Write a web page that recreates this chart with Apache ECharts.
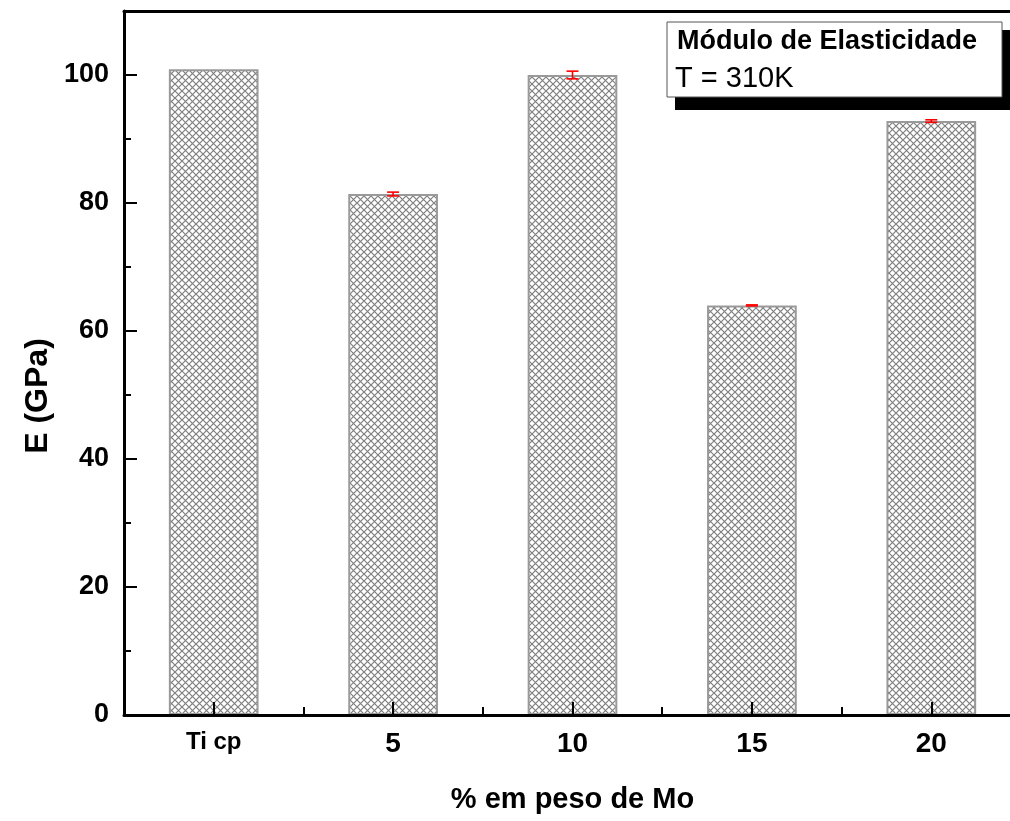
<!DOCTYPE html>
<html>
<head>
<meta charset="utf-8">
<script src="https://cdn.jsdelivr.net/npm/echarts@6/dist/echarts.min.js"></script>
<style>
  html, body { margin: 0; padding: 0; background: #fff; overflow: hidden; }
  #chart { width: 1021px; height: 821px; }
</style>
</head>
<body>
<div id="chart"></div>
<script>
// Elastic modulus of Ti–Mo alloys at 310 K
const categories = ['Ti cp', '5', '10', '15', '20'];
const modulus = [100.9, 81.4, 100.0, 64.0, 92.8];   // GPa
const modulusErr = [0, 0.3, 0.6, 0.08, 0.2];         // GPa, ± deviation
const yMajorTicks = [0, 20, 40, 60, 80, 100];
const yMinorTicks = [10, 30, 50, 70, 90];

const FONT = '"Liberation Sans", Arial, sans-serif';

// crosshatch fill for the bars
function hatch() {
  const n = 7;
  const c = document.createElement('canvas');
  c.width = n; c.height = n;
  const g = c.getContext('2d');
  g.fillStyle = '#ffffff';
  g.fillRect(0, 0, n, n);
  g.strokeStyle = '#7f7f7f';
  g.lineWidth = 1.2;
  g.beginPath();
  g.moveTo(-1, -1); g.lineTo(n + 1, n + 1);
  g.moveTo(n + 1, -1); g.lineTo(-1, n + 1);
  g.stroke();
  return c;
}

const chart = echarts.init(document.getElementById('chart'));

const errData = categories
  .map((c, i) => [i, modulus[i], modulusErr[i]])
  .filter(d => d[2] > 0);

chart.setOption({
  animation: false,
  backgroundColor: '#ffffff',
  grid: { left: 124, top: 11, right: 0, bottom: 106, containLabel: false },
  xAxis: [
    {
      type: 'category',
      data: categories,
      position: 'bottom',
      axisLine: { show: true, lineStyle: { color: '#000', width: 3 } },
      axisTick: { show: true, inside: true, alignWithLabel: true, length: 13, lineStyle: { color: '#000', width: 2 } },
      axisLabel: {
        margin: 15,
        color: '#000',
        fontFamily: FONT,
        fontWeight: 'bold',
        fontSize: 28,
        formatter: v => v === 'Ti cp' ? '{s|' + v + '}' : v,
        rich: { s: { fontFamily: FONT, fontWeight: 'bold', fontSize: 24, color: '#000' } }
      },
      name: '% em peso de Mo',
      nameLocation: 'middle',
      nameGap: 70,
      nameTextStyle: { color: '#000', fontFamily: FONT, fontWeight: 'bold', fontSize: 29 },
      z: 5
    },
    {
      // minor ticks between the categories
      type: 'category',
      data: categories,
      position: 'bottom',
      axisLine: { show: false },
      axisTick: { show: true, inside: true, alignWithLabel: false, length: 8, lineStyle: { color: '#000', width: 2 } },
      axisLabel: { show: false },
      z: 5
    },
    {
      // top frame line
      type: 'category',
      data: categories,
      position: 'top',
      axisLine: { show: true, lineStyle: { color: '#000', width: 3 } },
      axisTick: { show: false },
      axisLabel: { show: false }
    }
  ],
  yAxis: [
    {
      type: 'value',
      min: 0,
      max: 110,
      interval: 20,
      splitLine: { show: false },
      axisLine: { show: true, lineStyle: { color: '#000', width: 3 } },
      axisTick: { show: true, inside: true, length: 13, customValues: yMajorTicks, lineStyle: { color: '#000', width: 2 } },
      axisLabel: {
        margin: 15,
        color: '#000',
        fontFamily: FONT,
        fontWeight: 'bold',
        fontSize: 27,
        customValues: yMajorTicks,
        formatter: v => (v > 100 ? '' : String(v))
      },
      z: 5
    },
    {
      type: 'value',
      min: 0,
      max: 110,
      interval: 10,
      position: 'left',
      splitLine: { show: false },
      axisLine: { show: false },
      axisTick: { show: true, inside: true, length: 7, customValues: yMinorTicks, lineStyle: { color: '#000', width: 2 } },
      axisLabel: { show: false },
      z: 5
    }
  ],
  series: [
    {
      type: 'bar',
      xAxisIndex: 0,
      yAxisIndex: 0,
      data: modulus,
      barWidth: '50%',
      itemStyle: {
        color: { image: hatch(), repeat: 'repeat' },
        borderColor: '#9a9a9a',
        borderWidth: 2
      },
      z: 2
    },
    {
      type: 'custom',
      xAxisIndex: 0,
      yAxisIndex: 0,
      data: errData,
      z: 6,
      renderItem: function (params, api) {
        const i = api.value(0), v = api.value(1), e = api.value(2);
        const top = api.coord([i, v + e]);
        const bot = api.coord([i, v - e]);
        const half = 6;
        const style = { stroke: '#ff0000', lineWidth: 1.6 };
        return {
          type: 'group',
          children: [
            { type: 'line', shape: { x1: top[0], y1: top[1], x2: bot[0], y2: bot[1] }, style },
            { type: 'line', shape: { x1: top[0] - half, y1: top[1], x2: top[0] + half, y2: top[1] }, style },
            { type: 'line', shape: { x1: bot[0] - half, y1: bot[1], x2: bot[0] + half, y2: bot[1] }, style }
          ]
        };
      }
    }
  ],
  graphic: [
    {
      type: 'text',
      x: 38, y: 396,
      rotation: Math.PI / 2,
      style: {
        text: 'E (GPa)',
        fill: '#000',
        font: 'bold 32px ' + FONT,
        align: 'center',
        verticalAlign: 'middle'
      }
    },
    // text box with drop shadow
    { type: 'rect', shape: { x: 675, y: 30, width: 345, height: 80 }, style: { fill: '#000' }, z: 10 },
    { type: 'rect', shape: { x: 667, y: 22, width: 335, height: 75 }, style: { fill: '#fff', stroke: '#555', lineWidth: 1 }, z: 11 },
    {
      type: 'text', x: 677, y: 42, z: 12,
      style: { text: 'Módulo de Elasticidade', fill: '#000', font: 'bold 27px ' + FONT, verticalAlign: 'middle' }
    },
    {
      type: 'text', x: 675, y: 79, z: 12,
      style: { text: 'T = 310K', fill: '#000', font: '29px ' + FONT, verticalAlign: 'middle' }
    }
  ]
});
</script>
</body>
</html>
